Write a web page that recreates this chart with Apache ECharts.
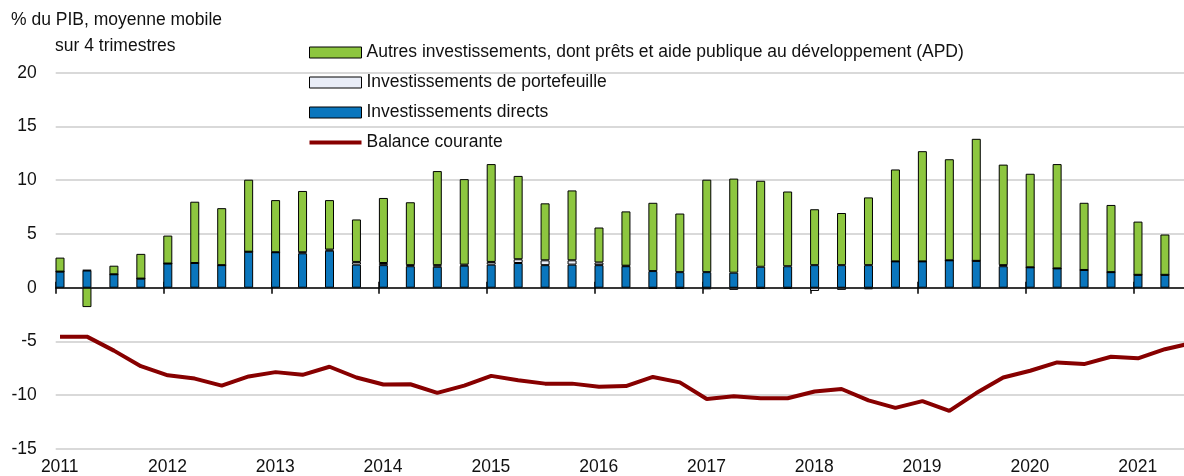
<!DOCTYPE html>
<html>
<head>
<meta charset="utf-8">
<script src="https://cdn.jsdelivr.net/npm/echarts@6/dist/echarts.min.js"></script>
<style>
  html, body { margin: 0; padding: 0; background: #fff; }
  #main { width: 1184px; height: 476px; }
</style>
</head>
<body>
<div id="main"></div>
<script>
// trimestres (T1..T4)
var quarters = [
  '2011T1','2011T2','2011T3','2011T4','2012T1','2012T2','2012T3','2012T4',
  '2013T1','2013T2','2013T3','2013T4','2014T1','2014T2','2014T3','2014T4',
  '2015T1','2015T2','2015T3','2015T4','2016T1','2016T2','2016T3','2016T4',
  '2017T1','2017T2','2017T3','2017T4','2018T1','2018T2','2018T3','2018T4',
  '2019T1','2019T2','2019T3','2019T4','2020T1','2020T2','2020T3','2020T4',
  '2021T1','2021T2','2021T3'
];
var years = [2011, 2012, 2013, 2014, 2015, 2016, 2017, 2018, 2019, 2020, 2021];

// % du PIB, moyenne mobile sur 4 trimestres
var directs = [1.5, 1.6, 1.25, 0.85, 2.25, 2.3, 2.1, 3.35, 3.3, 3.2, 3.45, 2.15,
  2.1, 2.0, 1.95, 2.05, 2.15, 2.3, 2.1, 2.15, 2.1, 2.0, 1.55, 1.45,
  1.45, 1.4, 1.95, 2.0, 2.1, 2.1, 2.1, 2.45, 2.45, 2.55, 2.5, 2.0,
  1.9, 1.8, 1.65, 1.45, 1.2, 1.2];
var portefeuille = [0, 0.05, 0, 0, 0, 0, 0, 0, 0, 0.1, 0.1, 0.25,
  0.2, 0.1, 0.15, 0.1, 0.25, 0.35, 0.45, 0.4, 0.25, 0.05, -0.1, -0.1,
  -0.15, -0.2, -0.1, -0.1, -0.3, -0.2, -0.15, 0, 0, 0, 0, 0.1,
  0, 0, 0, 0, 0, 0];
var autres = [1.3, -1.8, 0.8, 2.3, 2.6, 5.7, 5.3, 6.7, 4.85, 5.7, 4.6, 3.95,
  6.05, 5.85, 8.75, 7.95, 9.1, 7.75, 5.3, 6.5, 3.25, 5.05, 6.35, 5.45,
  8.6, 8.75, 8.0, 6.95, 5.2, 4.85, 6.3, 8.55, 10.25, 9.4, 11.35, 9.35,
  8.7, 9.7, 6.25, 6.25, 4.95, 3.75];
var balance = [-4.55, -4.55, -5.85, -7.3, -8.15, -8.45, -9.1, -8.25, -7.85, -8.1, -7.35, -8.35,
  -9.0, -8.98, -9.78, -9.1, -8.2, -8.6, -8.92, -8.92, -9.2, -9.15, -8.3, -8.8,
  -10.35, -10.1, -10.28, -10.28, -9.65, -9.42, -10.48, -11.17, -10.55, -11.45, -9.8, -8.35,
  -7.72, -6.95, -7.1, -6.42, -6.57, -5.72, -5.15];

var FONT = '"Liberation Sans", Arial, sans-serif';
var FS = 17.5;
var TXT = '#111';

// position du trimestre sur l'axe des années (barre un peu après le début du trimestre)
function qx(q) {
  return +q.slice(0, 4) + (+q.slice(5) - 1) / 4 + 0.04;
}
// valeur d'abord, puis x : la pile se fait ainsi sur la dimension y
function rows(vals) {
  return vals.map(function (v, i) { return [v, qx(quarters[i])]; });
}

var xMin = 2011, xMax = 2021.467;
function baseX(extra) {
  var a = {
    type: 'value', min: xMin, max: xMax, position: 'bottom',
    splitLine: { show: false },
    axisLabel: { show: false },
    axisTick: { show: false },
    axisLine: { show: false, onZero: false }
  };
  for (var k in extra) a[k] = extra[k];
  return a;
}

var myChart = echarts.init(document.getElementById('main'));
myChart.setOption({
  animation: false,
  backgroundColor: '#fff',
  textStyle: { fontFamily: FONT, color: TXT },
  title: [
    { text: '% du PIB, moyenne mobile', left: 11, top: 11, padding: 0,
      textStyle: { fontFamily: FONT, fontSize: FS, fontWeight: 'normal', color: TXT } },
    { text: 'sur 4 trimestres', left: 55, top: 37, padding: 0,
      textStyle: { fontFamily: FONT, fontSize: FS, fontWeight: 'normal', color: TXT } }
  ],
  legend: {
    orient: 'vertical',
    left: 309,
    top: 43.5,
    padding: 0,
    itemGap: 12,
    itemWidth: 52,
    itemHeight: 11,
    textStyle: { fontFamily: FONT, fontSize: FS, color: TXT },
    itemStyle: { borderColor: '#000', borderWidth: 1 },
    data: [
      { name: 'Autres investissements, dont prêts et aide publique au développement (APD)', icon: 'rect' },
      { name: 'Investissements de portefeuille', icon: 'rect' },
      { name: 'Investissements directs', icon: 'rect' },
      { name: 'Balance courante', icon: 'path://M0,0h52v4h-52z',
        itemStyle: { color: '#870000', borderWidth: 0 } }
    ]
  },
  grid: {
    left: 55.7, right: 0, top: 72.7, bottom: 27,
    containLabel: false,
    outerBoundsMode: 'none'
  },
  xAxis: [
    baseX({
      axisLabel: {
        show: true, customValues: years, margin: 9, padding: [0, 0, 0, 8],
        fontFamily: FONT, fontSize: FS, color: TXT,
        formatter: function (v) { return String(Math.round(v)); }
      }
    }),
    baseX({
      axisLine: { show: true, onZero: true, onZeroAxisIndex: 0, lineStyle: { color: '#000', width: 1.5 } },
      axisTick: { show: true, customValues: years, length: 6, lineStyle: { color: '#000', width: 1.5 } }
    }),
    baseX({
      axisLine: { show: true, onZero: true, onZeroAxisIndex: 0, lineStyle: { color: 'rgba(0,0,0,0)', width: 0 } },
      axisTick: { show: true, inside: true, customValues: years, length: 6, lineStyle: { color: '#000', width: 1.5 } }
    })
  ],
  yAxis: {
    type: 'value', min: -15, max: 20, interval: 5,
    axisLine: { show: false },
    axisTick: { show: false },
    axisLabel: { fontFamily: FONT, fontSize: FS, color: TXT, margin: 19 },
    splitLine: { lineStyle: { color: '#d9d9d9', width: 2 } }
  },
  series: [
    {
      name: 'Investissements directs', type: 'bar', stack: 'flux', barWidth: 9,
      encode: { x: 1, y: 0 },
      itemStyle: { color: '#0a76bd', borderColor: '#000', borderWidth: 1 },
      data: rows(directs)
    },
    {
      name: 'Investissements de portefeuille', type: 'bar', stack: 'flux', barWidth: 9,
      encode: { x: 1, y: 0 },
      itemStyle: { color: '#e9edf7', borderColor: '#000', borderWidth: 1 },
      data: rows(portefeuille)
    },
    {
      name: 'Autres investissements, dont prêts et aide publique au développement (APD)',
      type: 'bar', stack: 'flux', barWidth: 9,
      encode: { x: 1, y: 0 },
      itemStyle: { color: '#8dc63f', borderColor: '#000', borderWidth: 1 },
      data: rows(autres)
    },
    {
      name: 'Balance courante', type: 'line', symbol: 'none', showSymbol: false,
      encode: { x: 1, y: 0 },
      lineStyle: { color: '#870000', width: 4 },
      itemStyle: { color: '#870000' },
      z: 5,
      data: rows(balance)
    }
  ]
});
</script>
</body>
</html>
